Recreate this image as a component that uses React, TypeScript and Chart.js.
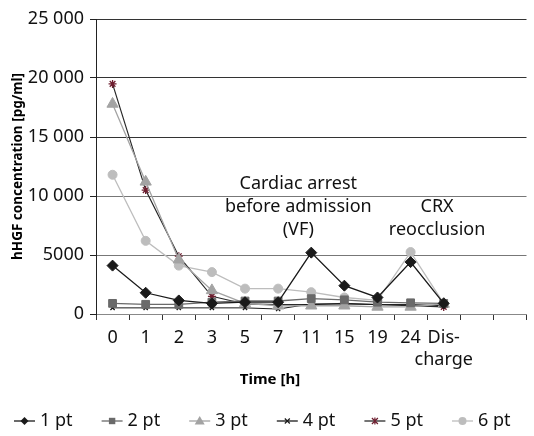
import React, { useEffect, useRef } from "react";
import { Chart, registerables } from "chart.js";

Chart.register(...registerables);

const categories: (string | string[])[] = ["0", "1", "2", "3", "5", "7", "11", "15", "19", "24", ["Dis-", "charge"], "", ""];

const pt1 = [4100, 1800, 1150, 900, 1000, 1000, 5200, 2400, 1400, 4400, 900];
const pt2 = [900, 820, 820, 1000, 1100, 1100, 1300, 1200, 1000, 950, 900];
const pt3 = [17800, 11200, 4600, 2000, 900, 700, 700, 700, 600, 600, 850];
const pt4 = [520, 520, 520, 520, 520, 420, 850, 850, 800, 800, 700];
const pt5 = [19500, 10500, 4900, 1500, 850, 800, 800, 900, 800, 700, 600];
const pt6 = [11800, 6200, 4100, 3550, 2150, 2150, 1850, 1400, 1150, 5250, 900];

const seriesNames = ["1 pt", "2 pt", "3 pt", "4 pt", "5 pt", "6 pt"];
const yTicks = [0, 5000, 10000, 15000, 20000, 25000];
const yTickLabels = ["0", "5000", "10 000", "15 000", "20 000", "25 000"];
const xTitle = "Time [h]";
const yTitle = "hHGF concentration [pg/ml]";

const annotationCardiac = ["Cardiac arrest", "before admission", "(VF)"];
const annotationCardiacIndex = 5.61;
const annotationCardiacValues = [11000, 9050, 7100];
const annotationCrx = ["CRX", "reocclusion"];
const annotationCrxIndex = 9.8;
const annotationCrxValues = [9050, 7100];

const FONT = "'Noto Sans', 'Open Sans', sans-serif";

export default function App() {
  const ref = useRef<HTMLCanvasElement | null>(null);
  useEffect(() => {
    document.body.style.margin = "0";
    const canvas = ref.current!;
    const styles = [
      { data: pt1, color: "#1a1a1a", pColor: "#1a1a1a", ps: "rectRot", r: 5.5, w: 1.3 },
      { data: pt2, color: "#6a6a6a", pColor: "#6a6a6a", ps: "rect", r: 5.5, w: 1.3 },
      { data: pt3, color: "#a3a3a3", pColor: "#a3a3a3", ps: "triangle", r: 6.5, w: 1.3 },
      { data: pt4, color: "#1a1a1a", pColor: "#1a1a1a", ps: "crossRot", r: 3, w: 1 },
      { data: pt5, color: "#2a2a2a", pColor: "#6e1f30", ps: "star", r: 4, w: 1.2 },
      { data: pt6, color: "#bdbdbd", pColor: "#bdbdbd", ps: "circle", r: 4.5, w: 1.3 },
    ];

    function drawPt(ctx: any, o: any, x: number, y: number) {
      ctx.save();
      ctx.fillStyle = o.fill;
      ctx.strokeStyle = o.stroke;
      ctx.lineWidth = o.borderWidth;
      const r = o.radius;
      ctx.beginPath();
      switch (o.pointStyle) {
        case "rectRot":
          ctx.moveTo(x, y - r); ctx.lineTo(x + r, y); ctx.lineTo(x, y + r); ctx.lineTo(x - r, y); ctx.closePath(); ctx.fill(); break;
        case "rect":
          ctx.rect(x - r * 0.8, y - r * 0.8, r * 1.6, r * 1.6); ctx.fill(); break;
        case "triangle":
          ctx.moveTo(x, y - r); ctx.lineTo(x + r, y + r * 0.7); ctx.lineTo(x - r, y + r * 0.7); ctx.closePath(); ctx.fill(); break;
        case "crossRot":
          ctx.moveTo(x - r, y - r); ctx.lineTo(x + r, y + r); ctx.moveTo(x + r, y - r); ctx.lineTo(x - r, y + r); ctx.stroke(); break;
        case "star":
          ctx.moveTo(x - r, y - r); ctx.lineTo(x + r, y + r); ctx.moveTo(x + r, y - r); ctx.lineTo(x - r, y + r);
          ctx.moveTo(x, y - r * 1.2); ctx.lineTo(x, y + r * 1.2); ctx.stroke(); break;
        default:
          ctx.arc(x, y, r, 0, Math.PI * 2); ctx.fill();
      }
      ctx.restore();
    }

    const textPlugin = {
      id: "texts",
      afterDatasetsDraw(chart: any) {
        const ctx = chart.ctx;
        const xs = chart.scales.x;
        const ys = chart.scales.y;
        ctx.save();
        ctx.fillStyle = "#111";
        ctx.font = `18px ${FONT}`;
        ctx.textAlign = "center";
        ctx.textBaseline = "middle";
        annotationCardiac.forEach((t, i) => {
          ctx.fillText(t, xs.getPixelForValue(annotationCardiacIndex), ys.getPixelForValue(annotationCardiacValues[i]));
        });
        annotationCrx.forEach((t, i) => {
          ctx.fillText(t, xs.getPixelForValue(annotationCrxIndex), ys.getPixelForValue(annotationCrxValues[i]));
        });
        ctx.fillStyle = "#000";
        ctx.font = `bold 15px ${FONT}`;
        ctx.fillText(xTitle, 270, 380);
        ctx.restore();
      },
      afterDraw(chart: any) {
        const ctx = chart.ctx;
        const y = 421;
        ctx.save();
        chart.data.datasets.forEach((ds: any, i: number) => {
          const x0 = 14 + i * 87.6;
          ctx.strokeStyle = ds.borderColor;
          ctx.lineWidth = 1.3;
          ctx.beginPath();
          ctx.moveTo(x0, y);
          ctx.lineTo(x0 + 21, y);
          ctx.stroke();
          const ps = ds.pointStyle;
          const r = ps === "triangle" ? 5 : ps === "crossRot" ? 2.5 : ps === "star" ? 3 : 4;
          drawPt(ctx, { pointStyle: ps, radius: r, borderWidth: 1.2, fill: ds.pointBackgroundColor, stroke: ds.pointBorderColor }, x0 + 10.5, y);
          ctx.fillStyle = "#111";
          ctx.font = `18px ${FONT}`;
          ctx.textAlign = "left";
          ctx.textBaseline = "middle";
          ctx.fillText(ds.label, x0 + 26, y);
        });
        ctx.restore();
      },
    };

    const chart = new Chart(canvas, {
      type: "line",
      data: {
        labels: categories,
        datasets: styles.map((s, i) => ({
          label: seriesNames[i],
          data: s.data,
          borderColor: s.color,
          backgroundColor: s.pColor,
          pointBackgroundColor: s.pColor,
          pointBorderColor: s.pColor,
          pointStyle: s.ps as any,
          pointRadius: s.r,
          pointBorderWidth: s.ps === "crossRot" || s.ps === "star" ? 1.3 : 1,
          borderWidth: s.w,
          tension: 0,
          fill: false,
        })),
      },
      options: {
        animation: false,
        responsive: false,
        maintainAspectRatio: false,
        layout: { padding: { top: 19, right: 0, left: 0, bottom: 42 } },
        plugins: { legend: { display: false }, tooltip: { enabled: false } },
        scales: {
          x: {
            offset: true,
            grid: { offset: true, drawOnChartArea: false, drawTicks: true, tickLength: 6, color: "#333" },
            border: { color: "#888", width: 1 },
            ticks: { color: "#111", font: { family: FONT, size: 18, lineHeight: 1.2 }, padding: 7, maxRotation: 0, autoSkip: false },
            title: { display: false },
            afterFit(scale: any) { scale.height = 80; },
          },
          y: {
            min: 0,
            max: 25000,
            afterBuildTicks(scale: any) { scale.ticks = yTicks.map((v) => ({ value: v })); },
            grid: {
              color: (c: any) => (c.tick && c.tick.value >= 15000 ? "#333" : "#777"),
              tickColor: "#222",
              tickLength: 6,
            },
            border: { color: "#222", width: 1 },
            ticks: {
              color: "#111",
              font: { family: FONT, size: 18 },
              padding: 6,
              callback: (v: any) => yTickLabels[yTicks.indexOf(Number(v))] ?? "",
            },
            title: { display: true, text: yTitle, color: "#000", font: { family: FONT, size: 13.5, weight: "bold" }, padding: { top: 10, bottom: 0 } },
            afterFit(scale: any) { scale.width = 96; },
          },
        },
      },
      plugins: [textPlugin],
    });
    return () => chart.destroy();
  }, []);
  return (
    <div style={{ width: 534, height: 436 }}>
      <canvas ref={ref} width={534} height={436} style={{ display: "block" }} />
    </div>
  );
}
